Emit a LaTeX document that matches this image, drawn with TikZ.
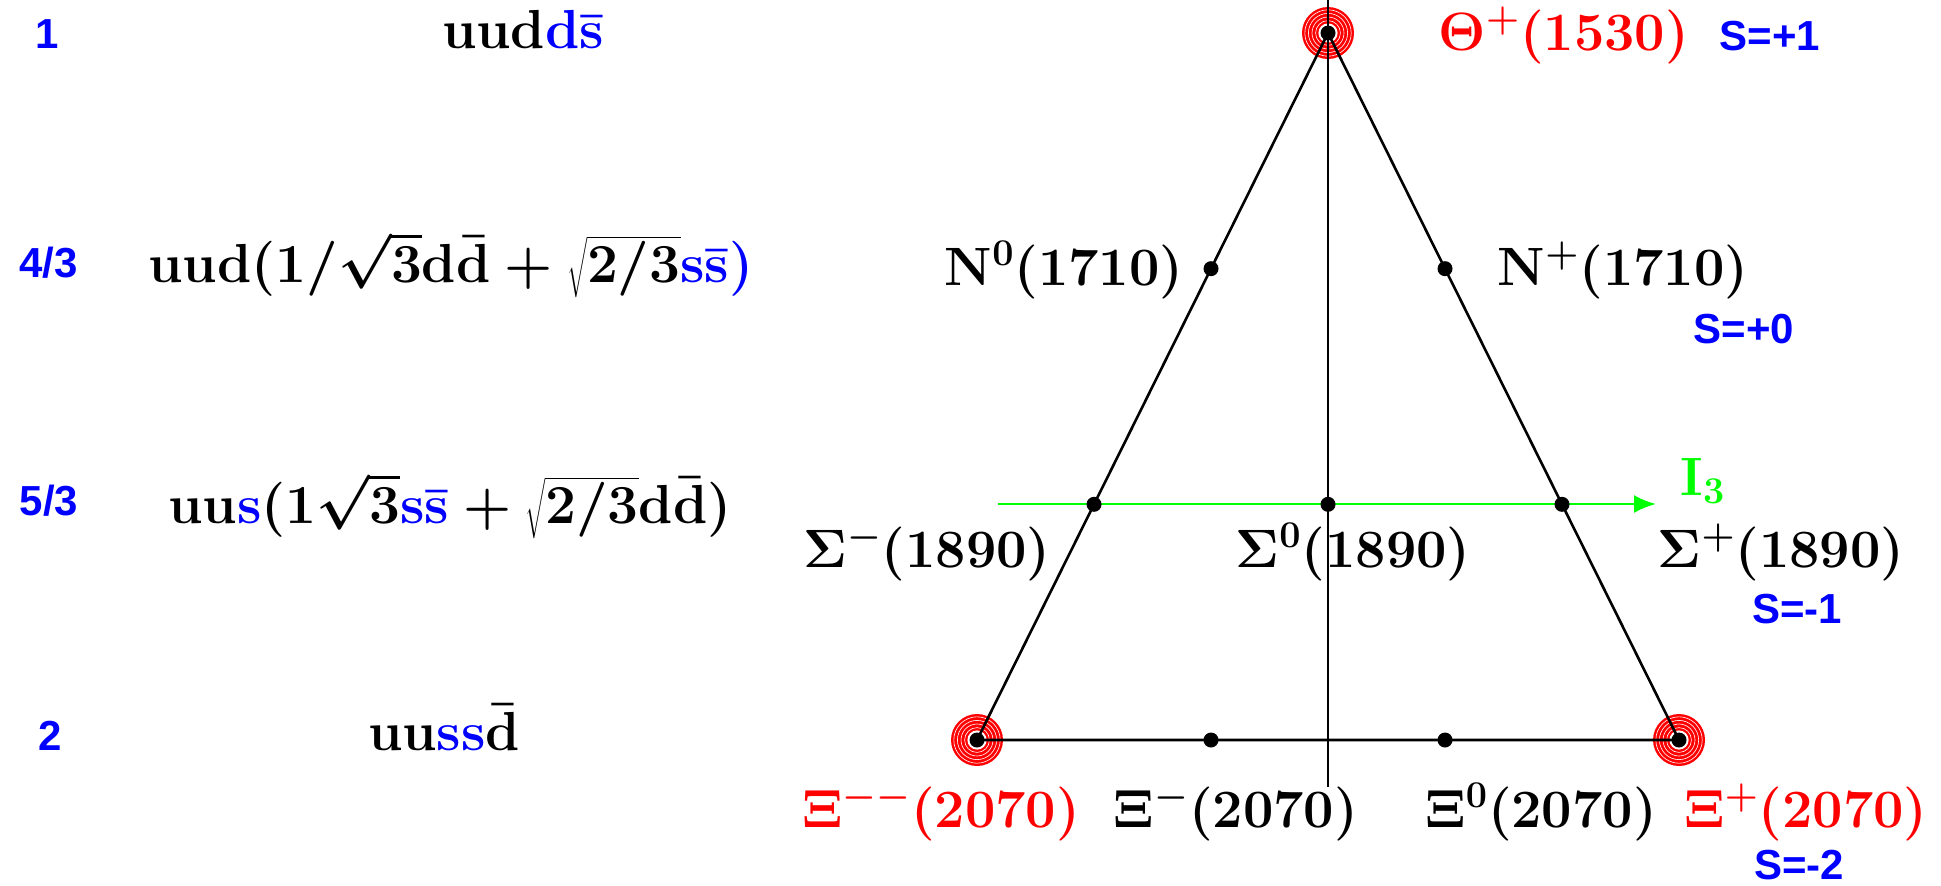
\documentclass[tikz,border=0pt]{standalone}
\usepackage{fix-cm}
\usepackage[no-math]{fontspec}
\newfontfamily\hvfont{Liberation Sans}
\usetikzlibrary{arrows.meta,calc}
\begin{document}
\begin{tikzpicture}[x=0.5pt,y=-0.5pt,
  lab/.style={anchor=base,inner sep=0pt,font=\fontsize{27}{30}\selectfont\boldmath},
  form/.style={anchor=base,inner sep=0pt,font=\fontsize{27.5}{30}\selectfont\boldmath},
  slab/.style={anchor=base,inner sep=0pt,text=blue,font=\hvfont\bfseries\fontsize{21}{24}\selectfont},
  dot/.style={circle,fill=black,inner sep=0pt,minimum size=7.5pt},
  edge/.style={line width=1.3pt,black},
  axisline/.style={line width=0.8pt,black},
  iso/.style={line width=1.2pt,green,-{Latex[length=11pt,width=9pt]}},
  ringed/.pic={
    \fill[red] (0,0) circle[radius=13pt];
    \foreach \r in {6.2pt,8pt,9.8pt,11.6pt}
      \draw[white,line width=0.3pt] (0,0) circle[radius=\r];
    \fill[white] (0,0) circle[radius=4.8pt];
  }]
\useasboundingbox (0,0) rectangle (1941,885);
% geometry
\coordinate (T) at (1328,33);
\coordinate (BL) at (977,740);
\coordinate (BR) at (1679,740);
\coordinate (Vt) at (1328,0);
\coordinate (Vb) at (1328,787);
\coordinate (Gs) at (998,504);
\coordinate (Ge) at (1656,504);
\foreach \c in {T,BL,BR} \pic at (\c) {ringed};
\draw[edge] (T) -- (BL) -- (BR) -- cycle;
\draw[axisline] (Vt) -- (Vb);
\draw[iso] (Gs) -- (Ge);
% dots
\node[dot] (dT) at (T) {};
\node[dot] (dBL) at (BL) {};
\node[dot] (dBR) at (BR) {};
\node[dot] (dN0) at ($(T)!1/3!(BL)$) {};
\node[dot] (dNp) at ($(T)!1/3!(BR)$) {};
\node[dot] (dSm) at ($(T)!2/3!(BL)$) {};
\node[dot] (dSp) at ($(T)!2/3!(BR)$) {};
\node[dot] (dS0) at ($(dSm)!0.5!(dSp)$) {};
\node[dot] (dXm) at ($(BL)!1/3!(BR)$) {};
\node[dot] (dX0) at ($(BL)!2/3!(BR)$) {};
% particle labels
\node[lab,text=red] (lTheta) at (1564,50) {$\Theta^{+}(1530)$};
\node[lab] (lN0) at (1064,285) {$\mathbf{N}^{0}(1710)$};
\node[lab] (lNp) at (1623,285) {$\mathbf{N}^{+}(1710)$};
\node[lab] (lSm) at (927,567) {$\Sigma^{-}(1890)$};
\node[lab] (lS0) at (1353,567) {$\Sigma^{0}(1890)$};
\node[lab] (lSp) at (1781,567) {$\Sigma^{+}(1890)$};
\node[lab,text=red] (lXmm) at (941,827) {$\Xi^{--}(2070)$};
\node[lab] (lXm) at (1236,827) {$\Xi^{-}(2070)$};
\node[lab] (lX0) at (1541,827) {$\Xi^{0}(2070)$};
\node[lab,text=red] (lXp) at (1806,827) {$\Xi^{+}(2070)$};
% strangeness labels
\node[slab] (s1) at (1770,50) {S=+1};
\node[slab] (s0) at (1744,343) {S=+0};
\node[slab] (sm1) at (1797,623) {S=-1};
\node[slab] (sm2) at (1799,879) {S=-2};
% isospin axis label
\node[anchor=base,inner sep=0pt,text=green,font=\fontsize{27}{30}\selectfont\boldmath] (lI3) at (1703,495) {$\mathbf{I}_{3}$};
% left column
\node[slab] (n1) at (47,48) {1};
\node[slab] (n2) at (48.5,277) {4/3};
\node[slab] (n3) at (49,515) {5/3};
\node[slab] (n4) at (50,750) {2};
\node[form] (f1) at (523,48) {$\mathrm{uud}{\color{blue}\mathrm{d}\bar{\mathrm{s}}}$};
\node[form] (f2) at (451,282) {$\mathrm{uud}(1/\sqrt{3}\mathrm{d}\bar{\mathrm{d}}+\sqrt{\vphantom{\big(}2/3}{\color{blue}\mathrm{s}\bar{\mathrm{s}})}$};
\node[form] (f3) at (450,523) {$\mathrm{uu}{\color{blue}\mathrm{s}}(1\sqrt{3}{\color{blue}\mathrm{s}\bar{\mathrm{s}}}+\sqrt{\vphantom{\big(}2/3}\mathrm{d}\bar{\mathrm{d}})$};
\node[form] (f4) at (444,750) {$\mathrm{uu}{\color{blue}\mathrm{ss}}\bar{\mathrm{d}}$};
\end{tikzpicture}
\end{document}
